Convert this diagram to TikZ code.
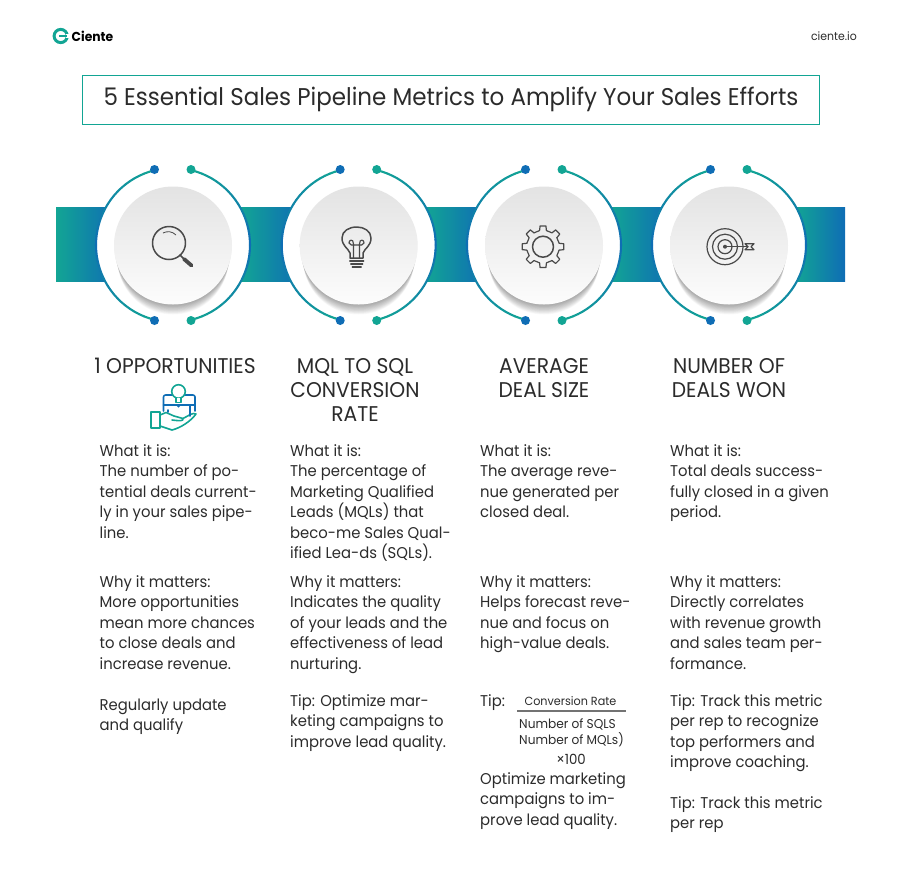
\documentclass[tikz,border=0pt]{standalone}
\usepackage{fontspec}
\setmainfont{Poppins}[FakeStretch=.95]
\definecolor{ringteal}{HTML}{12A594}
\definecolor{ringblue}{HTML}{0F6DB5}
\definecolor{inkc}{HTML}{2B2B2B}
\definecolor{iconc}{HTML}{4A4A4A}
\newcommand{\bodyfont}{\fontsize{15.6}{20.4}\selectfont}
\tikzset{
  bodytext/.style={anchor=north west, align=left, inner sep=0pt, text=inkc, font=\bodyfont},
  headtext/.style={anchor=north, align=center, inner sep=0pt, text=inkc, font=\fontsize{21.3}{24}\selectfont},
  fractext/.style={inner sep=0pt, text=inkc, font=\fontsize{12.8}{16}\selectfont},
  iconline/.style={draw=iconc, line width=1.5pt, line cap=round, line join=round},
  handline/.style={line width=1.6pt, line cap=round, line join=round},
}
\begin{document}
\begin{tikzpicture}[x=1pt,y=-1pt]
\useasboundingbox (0,0) rectangle (902,879);
% band
\foreach \x/\w in {56/60,240/60,425/60,610/60,795/50}{
    \shade[left color=ringteal, right color=ringblue] (\x,207.5) rectangle (\x+\w,281.5);
}
% rings and discs
\foreach \cx/\n in {173/1,358.7/2,544/3,729/4}{
  \begin{scope}[shift={(\cx,245)}]
    \fill[white] (0,0) circle[radius=77pt];
    \foreach \a in {104,108,...,252}{
        \pgfmathtruncatemacro{\m}{abs(\a-178)/74*100}
        \draw[color=ringteal!\m!ringblue, line width=2.1pt, line cap=round] (\a:77) -- (\a+4:77);
    }
    \foreach \a in {-76,-72,...,72}{
        \pgfmathtruncatemacro{\m}{abs(\a+2)/74*100}
        \draw[color=ringteal!\m!ringblue, line width=2.1pt, line cap=round] (\a:77) -- (\a+4:77);
    }
    \foreach \s in {-75.5,75.5}{
        \fill[ringblue] (-18.5,\s) circle[radius=4.5pt];
        \fill[ringteal] (18,\s) circle[radius=4.5pt];
    }
    \foreach \i in {1,...,14}{
        \fill[black, opacity=.028] (0,\i) circle[radius=59pt-.25pt*\i];
    }
    \shade[top color=black!11, bottom color=black!1] (0,.5) circle[radius=59pt];
  \end{scope}
}
% magnifier
\draw[iconline] (169,243) circle[radius=16.5pt];
\draw[draw=iconc, line width=.8pt] (163,233) .. controls (167,231) and (172,231) .. (176,235);
\draw[iconline] (180,255) -- (184,259);
\draw[iconline, line width=3.8pt] (184,259) -- (191.5,265.5);
% bulb
\draw[iconline] (350,258) -- (350,253) .. controls (348,248) and (342,246) .. (342,238)
  .. controls (342,231) and (349,227) .. (356.7,227)
  .. controls (364,227) and (371,231) .. (371,238)
  .. controls (371,246) and (365,248) .. (363,253) -- (363,258) -- cycle;
\draw[iconline, line width=1.2pt] (353.5,258) -- (353.5,244) .. controls (353.5,238) and (348.5,240) .. (349,243) .. controls (349.5,245.5) and (352,245) .. (356.7,245)
  .. controls (361,245) and (363.5,245.5) .. (364,243) .. controls (364.5,240) and (359.5,238) .. (359.5,244) -- (359.5,258);
\foreach \y/\w in {261/7,264/6,267/4.5}{
    \draw[iconline, line width=1.2pt] (356.7-\w,\y) -- (356.7+\w,\y);
}
% gear
\begin{scope}[shift={(543,246.7)}]
\foreach \a in {0,45,...,315}{
    \draw[iconline, line width=1.2pt] (\a+12-45:16.5) -- (\a-12:16.5) -- (\a-8:21) -- (\a+8:21) -- (\a+12:16.5);
}
\draw[iconline] (0,0) circle[radius=10.5pt];
\end{scope}
% target
\begin{scope}[shift={(725,246.7)}]
\foreach \r in {18,12.5,7}{
    \draw[iconline, line width=1.2pt] (0,0) circle[radius=\r pt];
}
\fill[iconc] (0,0) circle[radius=2pt];
\draw[iconline, line width=1.2pt] (0,0) -- (23,0);
\draw[iconline, line width=1.2pt] (20,-3) -- (29,-3) -- (26,0) -- (29,3) -- (20,3) -- (23,0) -- cycle;
\end{scope}
% logo
\draw[ringteal, line width=3pt] (60.7,36) circle[radius=6.6pt];
\fill[white] (66,34.4) rectangle (70,37.6);
\fill[ringteal] (58.5,34.9) rectangle (67,37.1);
\node[inner sep=0pt, anchor=west, text=black] (logo) at (71.5,36) {\fontsize{13}{14}\selectfont\bfseries Ciente};
\node[inner sep=0pt, anchor=east, text=inkc] (site) at (857,36) {\fontsize{11.5}{14}\selectfont ciente.io};
% title
\node[draw=ringteal, line width=.9pt, minimum width=737pt, minimum height=49pt, inner sep=0pt] (titlebox) at (450.5,99.5) {};
\node[inner sep=0pt, text=inkc] (title) at (451,99.5)
    {\fontsize{24.2}{26}\selectfont 5 Essential Sales Pipeline Metrics to Amplify Your Sales Efforts};
% headings
\foreach \x/\k/\t in {175/h1/{1 OPPORTUNITIES},355/h2/{MQL TO SQL\\CONVERSION\\RATE},544/h3/{AVERAGE\\DEAL SIZE},729/h4/{NUMBER OF\\DEALS WON}}{
    \node[headtext] (\k) at (\x,358) {\t};
}
% hand icon
\draw[ringteal, handline] (151,412) rectangle (160,428);
\draw[ringteal, handline] (160,415) -- (166,412.5) -- (174,416) -- (183,418.5) .. controls (184,421) and (180,421) .. (172,420);
\draw[ringteal, handline] (160,426) -- (172,430) .. controls (180,428) and (190,422) .. (196,414) .. controls (193,412) and (188,416) .. (183,418.5);
\draw[ringblue, handline, rounded corners=2pt] (163.5,411) -- (163.5,395) -- (195,395) -- (195,411);
\draw[ringblue, handline] (163.5,405) -- (195,405);
\draw[ringblue, handline] (168,410) -- (168,412) (190,405) -- (190,416);
\draw[ringteal, handline, fill=white] (178.5,391.5) circle[radius=6.8pt];
\draw[ringteal, handline, fill=white] (176,398) -- (176,402.5) -- (181,402.5) -- (181,398);
\fill[ringblue] (178.5,406) circle[radius=1.6pt];
% what it is
\foreach \x/\k/\t in {
  99.5/wa/{What it is:\\The number of po-\\tential deals current-\\ly in your sales pipe-\\line.},
  290/wb/{What it is:\\The percentage of\\Marketing Qualified\\Leads (MQLs) that\\beco-me Sales Qual-\\ified Lea-ds (SQLs).},
  480/wc/{What it is:\\The average reve-\\nue generated per\\closed deal.},
  670/wd/{What it is:\\Total deals success-\\fully closed in a given\\period.}}{
    \node[bodytext] (\k) at (\x,444.5) {\t};
}
% why it matters
\foreach \x/\k/\t in {
  99.5/ma/{Why it matters:\\More opportunities\\mean more chances\\to close deals and\\increase revenue.},
  290/mb/{Why it matters:\\Indicates the quality\\of your leads and the\\effectiveness of lead\\nurturing.},
  480/mc/{Why it matters:\\Helps forecast reve-\\nue and focus on\\high-value deals.},
  670/md/{Why it matters:\\Directly correlates\\with revenue growth\\and sales team per-\\formance.}}{
    \node[bodytext] (\k) at (\x,575.5) {\t};
}
% tips
\foreach \x/\y/\k/\t in {
  99.5/698.5/ta/{Regularly update\\and qualify},
  290/694.5/tb/{Tip: Optimize mar-\\keting campaigns to\\improve lead quality.},
  480/694.5/tc/{Tip:},
  480/772.5/te/{Optimize marketing\\campaigns to im-\\prove lead quality.},
  670/694.5/td/{Tip: Track this metric\\per rep to recognize\\top performers and\\improve coaching.},
  670/796.5/tf/{Tip: Track this metric\\per rep}}{
    \node[bodytext] (\k) at (\x,\y) {\t};
}
% fraction
\node[fractext, font=\fontsize{11.8}{16}\selectfont] (fnum) at (570.5,701) {Conversion Rate};
\coordinate (fl) at (517,711);
\coordinate (fr) at (626,711);
\draw[black!55, line width=1.1pt] (fl) -- (fr);
\node[fractext, anchor=west] (fa) at (519,724) {Number of SQLS};
\node[fractext, anchor=west] (fb) at (519,740) {Number of MQLs)};
\node[fractext, font=\fontsize{14}{16}\selectfont] (fc) at (571,759) {×100};
\end{tikzpicture}
\end{document}
